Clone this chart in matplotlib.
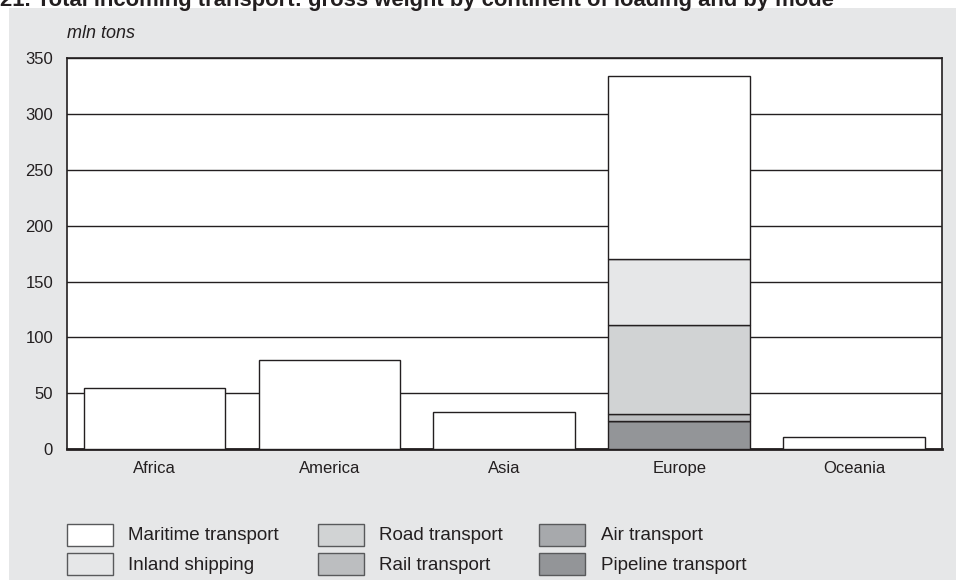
import numpy as np
import matplotlib.pyplot as plt
from matplotlib.patches import Rectangle

# data (mln tons)
continents = ["Africa", "America", "Asia", "Europe", "Oceania"]
pipeline = [0, 0, 0, 25, 0]
air = [0, 0, 0, 0.5, 0]
rail = [0, 0, 0, 5.8, 0]
road = [0, 0, 0, 80, 0]
inland = [0, 0, 0, 59, 0]
maritime = [55, 80, 33.5, 164, 11]

series = [
    ("Pipeline transport", pipeline, "#939598"),
    ("Air transport", air, "#a7a9ac"),
    ("Rail transport", rail, "#bcbec0"),
    ("Road transport", road, "#d1d3d4"),
    ("Inland shipping", inland, "#e6e7e8"),
    ("Maritime transport", maritime, "#ffffff"),
]
legend_order = ["Maritime transport", "Inland shipping", "Road transport",
                "Rail transport", "Air transport", "Pipeline transport"]

plt.rcParams['font.family'] = ['Liberation Sans', 'DejaVu Sans']
dark = "#231f20"
panel = "#e6e7e8"
W, H = 956, 580

fig = plt.figure(figsize=(9.56, 5.8), dpi=100)
fig.patches.append(Rectangle((9 / W, 0), 1, 1 - 8 / H, transform=fig.transFigure,
                             facecolor=panel, edgecolor="none", zorder=-10))
fig.text(0.0, 1 - 6 / H, "21. Total incoming transport: gross weight by continent of loading and by mode",
         fontsize=15.8, fontweight="bold", ha="left", va="baseline", color=dark)

ax = fig.add_axes([67 / W, 1 - 449 / H, (941.5 - 67) / W, (449 - 58.4) / H])
ax.set_facecolor("white")

x = np.arange(len(continents))
bottom = np.zeros(len(continents))
for name, vals, col in series:
    vals = np.array(vals, dtype=float)
    ax.bar(x, vals, 0.81, bottom=bottom, color=col, edgecolor=dark,
           linewidth=1.0, label=name, zorder=3)
    bottom += vals

ax.set_xlim(-0.5, 4.5)
ax.set_ylim(0, 350)
ax.set_yticks(np.arange(0, 351, 50))
ax.set_xticks(x)
ax.set_xticklabels(continents, va="center_baseline")
ax.tick_params(length=0, labelsize=12, colors=dark, pad=10)
ax.tick_params(axis="x", pad=13)
ax.yaxis.grid(True, color=dark, linewidth=1.0)
ax.set_axisbelow(True)
for s in ax.spines.values():
    s.set_color(dark)
    s.set_linewidth(1.2)
ax.spines["bottom"].set_linewidth(2)

fig.text(67 / W, 1 - 34 / H, "mln tons", fontsize=13, style="italic",
         ha="left", va="center", color=dark)

# legend, three columns of two
cols = {n: c for n, _, c in series}
box_x = [67, 318, 539]
text_x = [128, 379, 601]
row_y = [535, 564]
for i, name in enumerate(legend_order):
    c, r = divmod(i, 2)
    y0 = row_y[r]
    fig.patches.append(Rectangle((box_x[c] / W, 1 - (y0 + 11) / H), 46 / W, 22 / H,
                                 transform=fig.transFigure, facecolor=cols[name],
                                 edgecolor="#58595b", linewidth=1.0))
    fig.text(text_x[c] / W, 1 - (y0 + 1) / H, name, fontsize=13.5,
             ha="left", va="center", color=dark)

fig.savefig("out.png", dpi=100)
